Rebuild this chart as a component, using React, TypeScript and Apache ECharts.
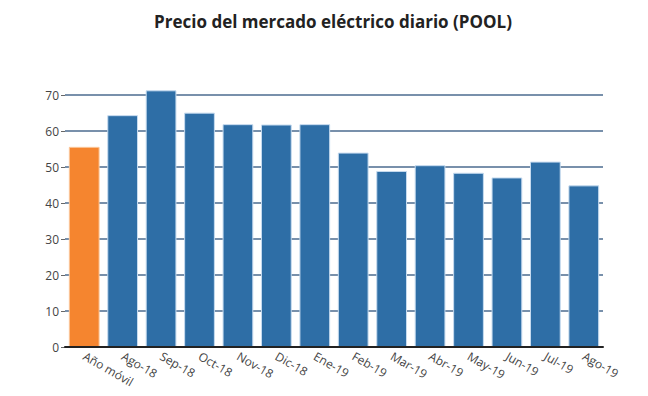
import React, { useEffect, useRef } from "react";
import * as echarts from "echarts";

const categories = ["Año móvil", "Ago-18", "Sep-18", "Oct-18", "Nov-18", "Dic-18", "Ene-19", "Feb-19", "Mar-19", "Abr-19", "May-19", "Jun-19", "Jul-19", "Ago-19"];
const values = [55.6, 64.4, 71.3, 65.1, 61.9, 61.8, 61.9, 54.0, 48.9, 50.5, 48.4, 47.1, 51.5, 44.9];
const highlightIndex = 0;
const yTicks = [0, 10, 20, 30, 40, 50, 60, 70];

export default function App() {
  const ref = useRef<HTMLDivElement>(null);
  useEffect(() => {
    if (!ref.current) return;
    const chart = echarts.init(ref.current, null, { renderer: "svg" });
    const font = "'Open Sans', 'Noto Sans', sans-serif";
    chart.setOption({
      animation: false,
      backgroundColor: "#ffffff",
      title: {
        text: "Precio del mercado eléctrico diario (POOL)",
        left: 328,
        top: 8,
        textAlign: "center",
        textStyle: { fontFamily: font, fontSize: 17, fontWeight: "bold", color: "#222" },
      },
      grid: { left: 65, right: 45, top: 95, bottom: 49, containLabel: false },
      xAxis: {
        type: "category",
        data: categories,
        axisLine: { show: true, lineStyle: { color: "#222", width: 2 } },
        axisTick: { show: false },
        axisLabel: {
          rotate: -30,
          interval: 0,
          margin: 8,
          fontFamily: font,
          fontSize: 12,
          color: "#444",
        },
        z: 5,
      },
      yAxis: {
        type: "value",
        min: yTicks[0],
        max: yTicks[yTicks.length - 1],
        interval: 10,
        axisLine: { show: false },
        axisTick: { show: true, length: 4, lineStyle: { color: "#666", width: 1 } },
        axisLabel: { fontFamily: font, fontSize: 12, color: "#444", margin: 6 },
        splitLine: { show: true, lineStyle: { color: "#7890ab", width: 2 } },
      },
      series: [
        {
          type: "bar",
          clip: false,
          barCategoryGap: "20%",
          data: values.map((v, i) => ({
            value: v,
            itemStyle:
              i === highlightIndex
                ? { color: "#f5852f", borderColor: "#fbc79a", borderWidth: 1 }
                : { color: "#2e6ea6", borderColor: "#c6dbef", borderWidth: 1 },
          })),
          z: 3,
        },
      ],
    });
    return () => chart.dispose();
  }, []);
  return <div ref={ref} style={{ width: 648, height: 396, position: "absolute", left: 0, top: 0 }} />;
}
